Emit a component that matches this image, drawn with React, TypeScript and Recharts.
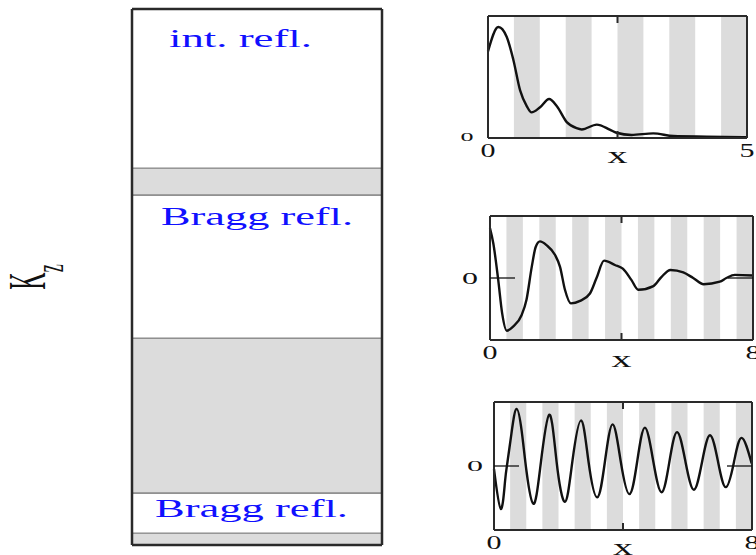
import React from 'react';
import { BarChart, Bar, ComposedChart, Line, XAxis, YAxis, ReferenceArea } from 'recharts';

const FONT = '"Liberation Serif", "Times New Roman", Times, serif';
const GRAY = '#dcdcdc';
const FRAME = '#2a2a2a';
const INK = '#111';
const BLUE = '#1010ff';

// ---- left panel: bands along K_z (bottom to top), thickness in K_z units (0..10)
const bandKeys = ['s0', 's1', 's2', 's3', 's4', 's5'];
const bandThickness = [0.22, 0.75, 2.89, 2.67, 0.5, 2.97];
const bandIsGap = [true, false, true, false, true, false];
const bandLabels = ['', 'Bragg refl.', '', 'Bragg refl.', '', 'int. refl.'];
const K_MAX = 10;

// ---- right panels: field profiles
const p1X = [0, 0.2, 0.36, 0.49, 0.62, 0.75, 0.84, 1.0, 1.18, 1.33, 1.52, 1.71, 1.81, 2.1, 2.36, 2.48, 2.77, 3.19, 3.58, 4.22, 5];
const p1Y = [0.71, 0.91, 0.83, 0.64, 0.39, 0.26, 0.21, 0.25, 0.32, 0.26, 0.13, 0.08, 0.07, 0.11, 0.066, 0.043, 0.025, 0.038, 0.016, 0.011, 0.006];

const p2X = [0, 0.1, 0.25, 0.37, 0.51, 0.71, 0.96, 1.11, 1.27, 1.39, 1.52, 1.72, 1.98, 2.13, 2.28, 2.46, 2.74, 3.04, 3.24, 3.47, 3.8, 4.04, 4.3, 4.51, 4.97, 5.22, 5.49, 5.88, 6.18, 6.5, 6.99, 7.19, 7.45, 8.0];
const p2Y = [0.8, 0.56, -0.03, -0.57, -0.85, -0.78, -0.6, -0.35, 0.18, 0.5, 0.59, 0.53, 0.37, 0.18, -0.19, -0.41, -0.37, -0.25, 0, 0.28, 0.21, 0.15, -0.03, -0.19, -0.13, 0.02, 0.13, 0.09, 0, -0.1, -0.06, 0, 0.05, 0.04];

const p3X = [0, 0.21, 0.34, 0.42, 0.55, 0.7, 0.86, 1.01, 1.22, 1.43, 1.71, 1.94, 2.2, 2.43, 2.7, 2.93, 3.2, 3.44, 3.68, 3.93, 4.2, 4.44, 4.68, 4.94, 5.2, 5.44, 5.68, 5.94, 6.2, 6.45, 6.7, 6.95, 7.19, 7.44, 7.68, 7.99];
const p3Y = [-0.05, -0.67, -0.25, 0.07, 0.54, 0.89, 0.54, -0.09, -0.59, -0.04, 0.8, 0.07, -0.56, 0.07, 0.71, 0.07, -0.49, 0.07, 0.65, 0.07, -0.44, 0.07, 0.6, 0.07, -0.41, 0.07, 0.53, 0.06, -0.37, 0.06, 0.48, 0.06, -0.33, 0.06, 0.44, 0.04];

const stripes5 = [[0.5, 1], [1.5, 2], [2.5, 3], [3.5, 4], [4.5, 5]];
const stripes8 = [[0.5, 1], [1.5, 2], [2.5, 3], [3.5, 4], [4.5, 5], [5.5, 6], [6.5, 7], [7.5, 8]];

const xTickLabels1 = [0, 2.5, 5];
const xTickLabels8 = [0, 4, 8];

const toData = (xs: number[], ys: number[]) => xs.map((x, i) => ({ x, y: ys[i] }));

const bandRow: Record<string, any> = { name: 'K' };
bandKeys.forEach((k, i) => (bandRow[k] = bandThickness[i]));
const bandData = [bandRow];

// label placement inside bands (style)
const bandLabelStyle: Record<string, { dx: number; dy: number; len: number }> = {
  s1: { dx: 23, dy: 24, len: 193 },
  s3: { dx: 29, dy: 30, len: 192 },
  s5: { dx: 37, dy: 38, len: 143 },
};

const makeBandLabel = (key: string, text: string) => (p: any) => {
  const vb = p && p.viewBox ? p.viewBox : p;
  const st = bandLabelStyle[key];
  if (!vb || !st) return null;
  const x = (vb.x ?? p.x) as number;
  const y = (vb.y ?? p.y) as number;
  const h = (vb.height ?? p.height) as number;
  const top = h < 0 ? y + h : y;
  return (
    <text
      x={x + st.dx}
      y={top + st.dy}
      fontFamily={FONT}
      fontSize={26}
      fill={BLUE}
      textLength={st.len}
      lengthAdjust="spacingAndGlyphs"
    >
      {text}
    </text>
  );
};

const renderKz = (p: any) => {
  const vb = p.viewBox;
  const cx = vb.x + vb.width - 87;
  const cy = vb.y + vb.height / 2;
  return (
    <text
      transform={`translate(${cx},${cy}) scale(2.2,1) rotate(-90)`}
      textAnchor="middle"
      fontFamily={FONT}
      fontSize={24}
      fill={INK}
    >
      K
      <tspan fontSize={18} dy={8}>
        z
      </tspan>
    </text>
  );
};

type PanelCfg = {
  data: { x: number; y: number }[];
  xMax: number;
  mid: number;
  yDomain: [number, number];
  stripes: number[][];
  ticks: number[];
  plot: { left: number; top: number; right: number; bottom: number };
  curve: 'monotone' | 'natural';
  y0Label: { dx: number; dy: number; size: number; len: number };
  xLabelDy: number;
  zeroTick: boolean;
};

const panels: PanelCfg[] = [
  {
    data: toData(p1X, p1Y),
    xMax: 5,
    mid: 2.5,
    yDomain: [0, 1],
    stripes: stripes5,
    ticks: xTickLabels1,
    plot: { left: 488, top: 16, right: 747, bottom: 138 },
    curve: 'monotone',
    y0Label: { dx: -21, dy: 3, size: 12, len: 13 },
    xLabelDy: 25,
    zeroTick: false,
  },
  {
    data: toData(p2X, p2Y),
    xMax: 8,
    mid: 4,
    yDomain: [-1, 1],
    stripes: stripes8,
    ticks: xTickLabels8,
    plot: { left: 490, top: 216, right: 753, bottom: 340 },
    curve: 'monotone',
    y0Label: { dx: -20, dy: 6, size: 16, len: 16 },
    xLabelDy: 27,
    zeroTick: true,
  },
  {
    data: toData(p3X, p3Y),
    xMax: 8,
    mid: 4,
    yDomain: [-1, 1],
    stripes: stripes8,
    ticks: xTickLabels8,
    plot: { left: 494, top: 402, right: 752, bottom: 530 },
    curve: 'natural',
    y0Label: { dx: -19, dy: 5, size: 15, len: 16 },
    xLabelDy: 25,
    zeroTick: true,
  },
];

const W = 756;
const H = 555;
const AX = 1; // axis thickness reserved (axes of size 0 are not drawn)
const layer: React.CSSProperties = { position: 'absolute', left: 0, top: 0, width: W, height: H };
const marginFor = (p: { left: number; top: number; right: number; bottom: number }) => ({
  top: p.top - AX,
  left: p.left - AX,
  right: W - p.right - AX,
  bottom: H - p.bottom - AX,
});

function Panel({ cfg }: { cfg: PanelCfg }) {
  const bottomTick = (p: any) => {
    const v = p.payload.value;
    if (v === cfg.mid) {
      return <line x1={p.x} x2={p.x} y1={p.y} y2={p.y - 7} stroke={FRAME} strokeWidth={2} />;
    }
    return (
      <text
        x={p.x}
        y={p.y + 19}
        textAnchor="middle"
        fontFamily={FONT}
        fontSize={19}
        textLength={15}
        lengthAdjust="spacingAndGlyphs"
        fill={INK}
      >
        {v}
      </text>
    );
  };
  const topTick = (p: any) => (
    <line x1={p.x} x2={p.x} y1={p.y} y2={p.y + 7} stroke={FRAME} strokeWidth={2} />
  );
  const leftTick = (p: any) => (
    <g>
      {cfg.zeroTick && <line x1={p.x} x2={p.x + 25} y1={p.y} y2={p.y} stroke={INK} strokeWidth={1.3} />}
      <text
        x={p.x + cfg.y0Label.dx}
        y={p.y + cfg.y0Label.dy}
        textAnchor="middle"
        fontFamily={FONT}
        fontSize={cfg.y0Label.size}
        textLength={cfg.y0Label.len}
        lengthAdjust="spacingAndGlyphs"
        fill={INK}
      >
        0
      </text>
    </g>
  );
  const rightTick = (p: any) =>
    cfg.zeroTick ? <line x1={p.x - 25} x2={p.x} y1={p.y} y2={p.y} stroke={INK} strokeWidth={1.3} /> : <g />;
  const xLabel = (p: any) => {
    const vb = p.viewBox;
    return (
      <text
        x={vb.x + vb.width / 2}
        y={vb.y + cfg.xLabelDy}
        textAnchor="middle"
        fontFamily={FONT}
        fontSize={24}
        textLength={20}
        lengthAdjust="spacingAndGlyphs"
        fill={INK}
      >
        x
      </text>
    );
  };
  const axisLine = { stroke: FRAME, strokeWidth: 2 };
  return (
    <div style={layer}>
      <ComposedChart width={W} height={H} data={cfg.data} margin={marginFor(cfg.plot)}>
        {cfg.stripes.map(([a, b], i) => (
          <ReferenceArea key={i} x1={a} x2={b} fill={GRAY} fillOpacity={1} stroke="none" ifOverflow="hidden" />
        ))}
        <Line
          type={cfg.curve}
          dataKey="y"
          stroke={INK}
          strokeWidth={2.4}
          dot={false}
          isAnimationActive={false}
        />
        <XAxis
          type="number"
          dataKey="x"
          domain={[0, cfg.xMax]}
          ticks={cfg.ticks}
          interval={0}
          height={AX}
          tickSize={0}
          tickMargin={0}
          tickLine={false}
          axisLine={axisLine}
          tick={bottomTick}
          label={xLabel}
        />
        <XAxis
          xAxisId="top"
          orientation="top"
          type="number"
          dataKey="x"
          domain={[0, cfg.xMax]}
          ticks={[cfg.mid]}
          interval={0}
          height={AX}
          tickSize={0}
          tickMargin={0}
          tickLine={false}
          axisLine={axisLine}
          tick={topTick}
        />
        <YAxis
          type="number"
          domain={cfg.yDomain}
          ticks={[0]}
          interval={0}
          width={AX}
          tickSize={0}
          tickMargin={0}
          tickLine={false}
          axisLine={axisLine}
          tick={leftTick}
          allowDataOverflow
        />
        <YAxis
          yAxisId="right"
          orientation="right"
          type="number"
          domain={cfg.yDomain}
          ticks={[0]}
          interval={0}
          width={AX}
          tickSize={0}
          tickMargin={0}
          tickLine={false}
          axisLine={axisLine}
          tick={rightTick}
          allowDataOverflow
        />
      </ComposedChart>
    </div>
  );
}

function BandPanel() {
  const axisLine = { stroke: FRAME, strokeWidth: 2.5 };
  return (
    <div style={layer}>
      <BarChart
        width={W}
        height={H}
        data={bandData}
        margin={marginFor({ left: 132, top: 9, right: 382, bottom: 545 })}
        barCategoryGap={0}
        barGap={0}
      >
        {bandKeys.map((k, i) => (
          <Bar
            key={k}
            dataKey={k}
            stackId="k"
            fill={bandIsGap[i] ? GRAY : '#ffffff'}
            stroke="#8a8a8a"
            strokeWidth={1.3}
            isAnimationActive={false}
            label={bandLabels[i] ? makeBandLabel(k, bandLabels[i]) : false}
          />
        ))}
        <XAxis dataKey="name" height={AX} tick={false} tickLine={false} axisLine={axisLine} />
        <XAxis xAxisId="top" orientation="top" dataKey="name" height={AX} tick={false} tickLine={false} axisLine={axisLine} />
        <YAxis
          type="number"
          domain={[0, K_MAX]}
          width={AX}
          tick={false}
          tickLine={false}
          axisLine={axisLine}
          label={renderKz}
          allowDataOverflow
        />
        <YAxis
          yAxisId="right"
          orientation="right"
          type="number"
          domain={[0, K_MAX]}
          width={AX}
          tick={false}
          tickLine={false}
          axisLine={axisLine}
          allowDataOverflow
        />
      </BarChart>
    </div>
  );
}

export default function App() {
  return (
    <div style={{ position: 'absolute', left: 0, top: 0, width: W, height: H, background: '#fff', overflow: 'hidden' }}>
      <BandPanel />
      {panels.map((cfg, i) => (
        <Panel key={i} cfg={cfg} />
      ))}
    </div>
  );
}
